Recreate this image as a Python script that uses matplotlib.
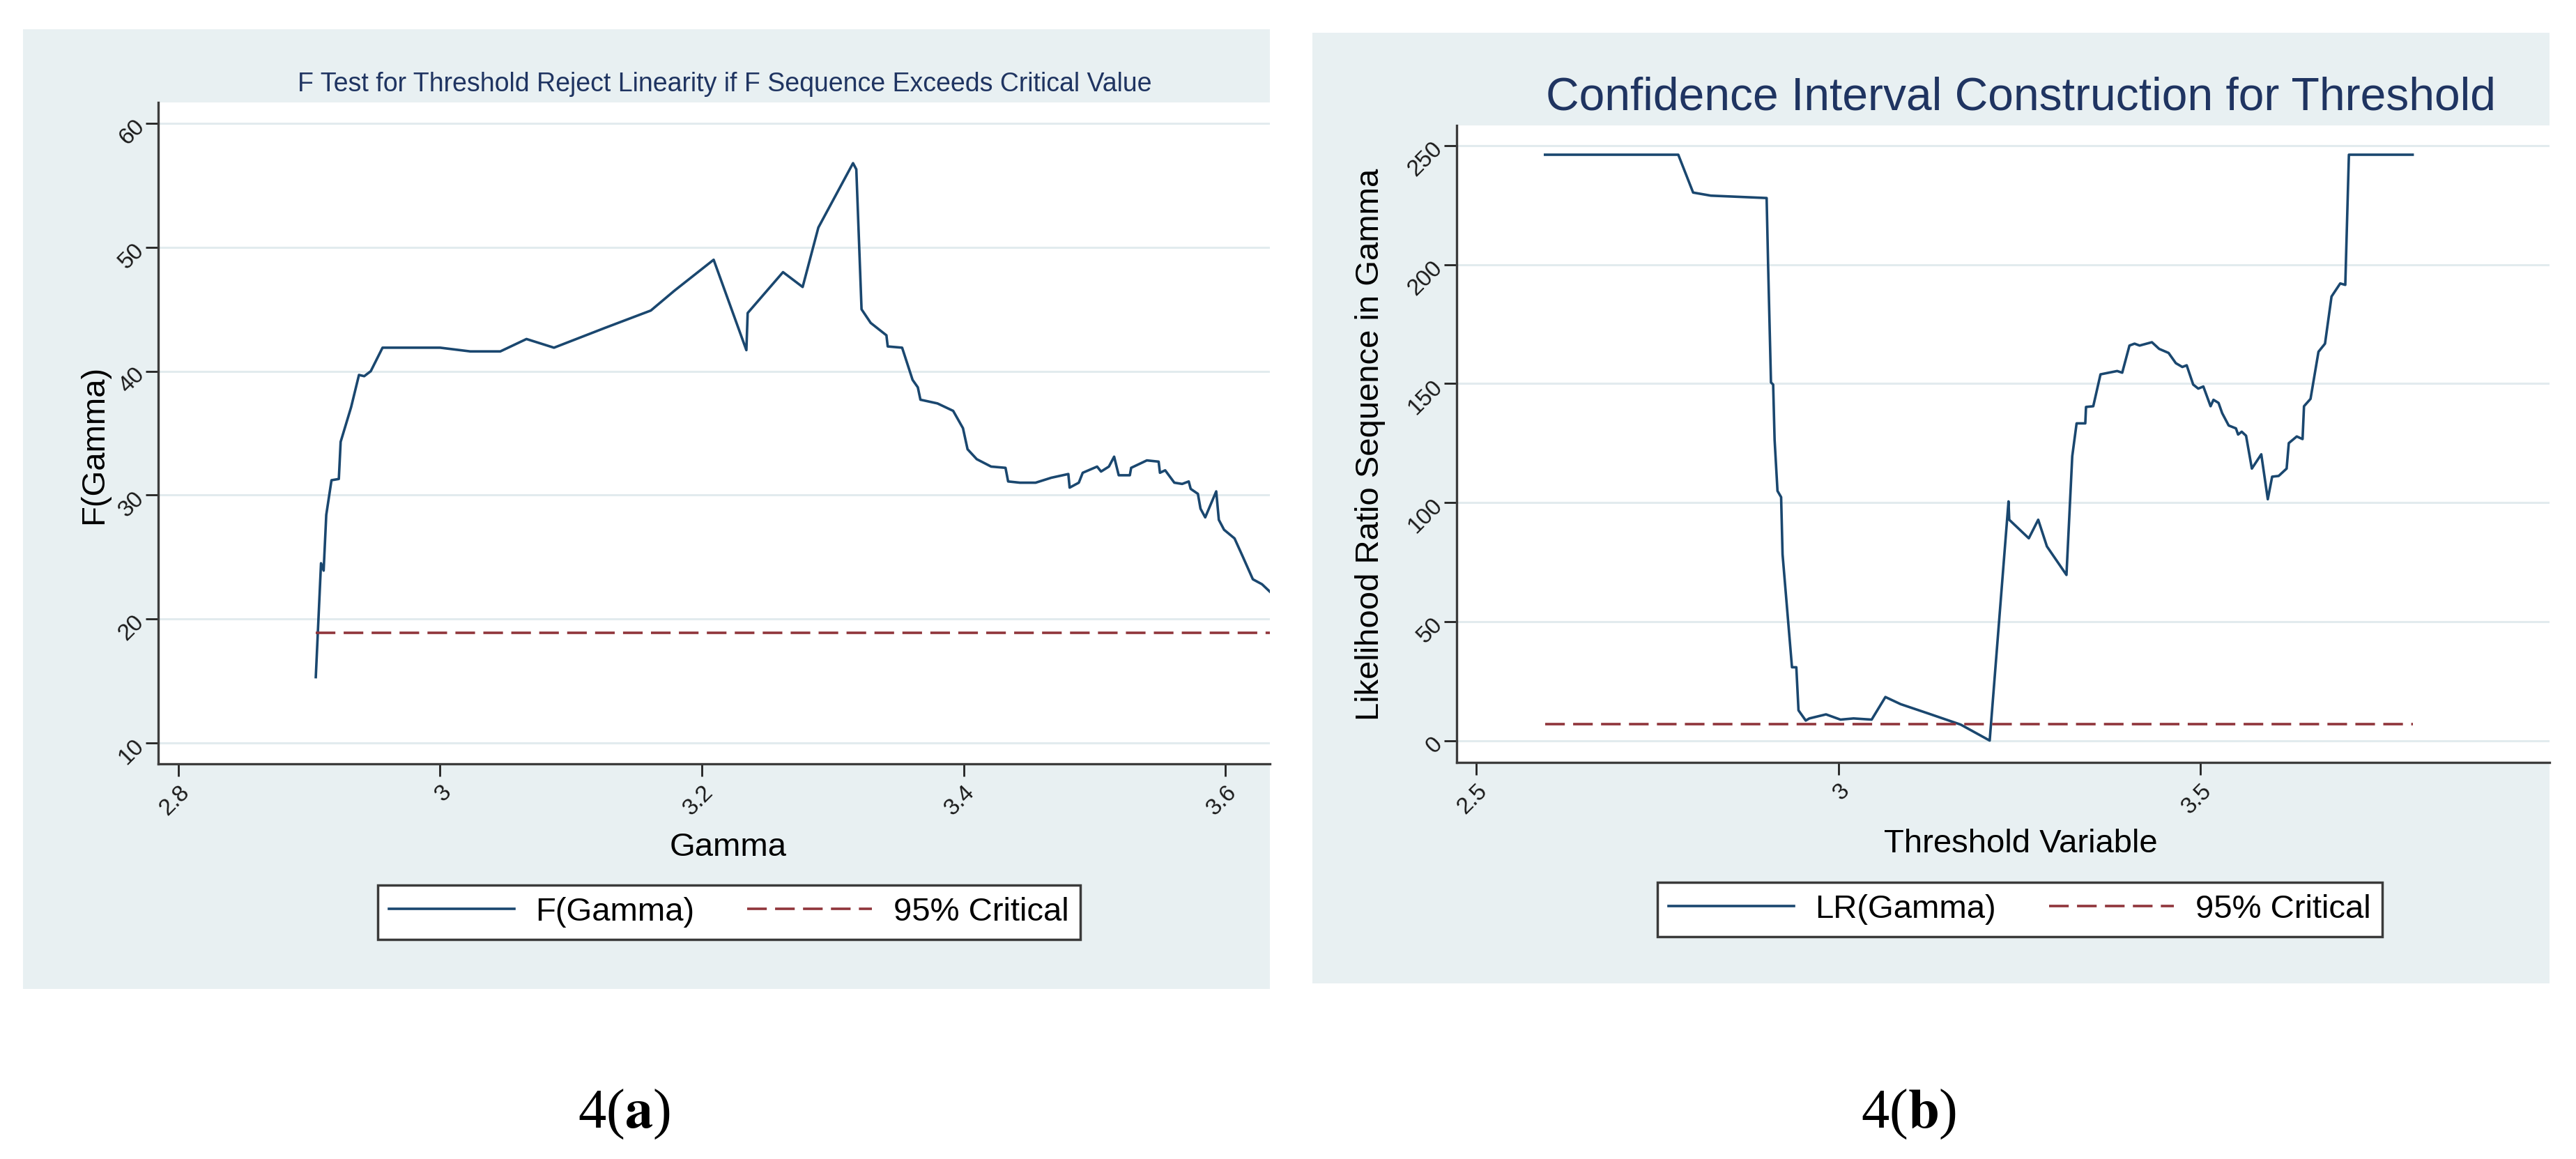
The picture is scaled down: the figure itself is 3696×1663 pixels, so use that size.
import matplotlib
matplotlib.use("Agg")
import matplotlib.pyplot as plt
from matplotlib.patches import Rectangle

# Figure size in pixels (dpi 100)
W, H = 3696, 1663

# Panel 4(a): F test sequence for the threshold
gamma_a = [2.905, 2.909, 2.911, 2.913, 2.917, 2.9226, 2.924, 2.932, 2.938, 2.942,
           2.947, 2.956, 3.000, 3.023, 3.046, 3.066, 3.087, 3.126, 3.161, 3.179,
           3.209, 3.234, 3.235, 3.262, 3.277, 3.289, 3.3155, 3.318, 3.322, 3.329,
           3.341, 3.342, 3.353, 3.361, 3.365, 3.367, 3.380, 3.392, 3.3995, 3.403,
           3.410, 3.421, 3.432, 3.434, 3.443, 3.455, 3.467, 3.480, 3.481, 3.488,
           3.491, 3.502, 3.505, 3.511, 3.515, 3.5185, 3.527, 3.528, 3.540, 3.549,
           3.550, 3.554, 3.561, 3.567, 3.572, 3.5735, 3.579, 3.581, 3.5846, 3.593,
           3.595, 3.599, 3.607, 3.613, 3.621, 3.628, 3.636]
f_gamma = [15.3, 24.5, 23.9, 28.4, 31.2, 31.3, 34.3, 37.1, 39.7, 39.6,
           40.0, 41.9, 41.9, 41.6, 41.6, 42.6, 41.9, 43.5, 44.9, 46.5,
           49.0, 41.7, 44.7, 48.0, 46.8, 51.6, 56.8, 56.3, 45.0, 43.9,
           42.9, 42.0, 41.9, 39.3, 38.7, 37.7, 37.4, 36.8, 35.4, 33.7,
           32.9, 32.3, 32.2, 31.1, 31.0, 31.0, 31.4, 31.7, 30.6, 31.0,
           31.8, 32.3, 31.9, 32.3, 33.1, 31.6, 31.6, 32.2, 32.8, 32.7,
           31.8, 32.0, 31.0, 30.9, 31.1, 30.5, 30.1, 28.9, 28.2, 30.3,
           28.0, 27.2, 26.5, 25.1, 23.2, 22.8, 22.0]
crit_a = 18.9
crit_a_x = [2.905, 3.70]

# Panel 4(b): likelihood ratio sequence
gamma_b = [2.595, 2.779, 2.7995, 2.824, 2.901, 2.903, 2.907, 2.910, 2.912, 2.916,
           2.921, 2.923, 2.936, 2.942, 2.945, 2.955, 2.960, 2.983, 3.003, 3.021,
           3.046, 3.065, 3.086, 3.124, 3.169, 3.209, 3.235, 3.236, 3.263, 3.276,
           3.288, 3.315, 3.323, 3.329, 3.341, 3.342, 3.352, 3.362, 3.385, 3.392,
           3.402, 3.409, 3.416, 3.433, 3.443, 3.456, 3.466, 3.475, 3.481, 3.490,
           3.497, 3.504, 3.514, 3.518, 3.525, 3.530, 3.539, 3.549, 3.552, 3.557,
           3.563, 3.571, 3.584, 3.593, 3.599, 3.608, 3.619, 3.622, 3.633, 3.641,
           3.643, 3.652, 3.663, 3.672, 3.681, 3.693, 3.700, 3.705, 3.793]
lr_gamma = [246.2, 246.2, 230.3, 229.0, 228.0, 200.4, 150.5, 149.6, 126.4, 104.9,
            102.3, 78.2, 30.8, 30.8, 12.7, 8.4, 9.3, 11.0, 8.8, 9.3,
            8.8, 18.3, 15.3, 11.4, 6.7, 0.0, 100.5, 92.8, 85.0, 92.8,
            81.6, 69.6, 119.5, 133.3, 133.3, 140.2, 140.5, 153.9, 155.3, 154.6,
            166.0, 166.8, 166.0, 167.4, 164.6, 162.9, 158.6, 157.0, 157.7, 149.6,
            147.9, 148.8, 140.5, 143.2, 141.9, 137.6, 132.4, 131.2, 128.6, 129.8,
            128.1, 114.3, 120.3, 101.4, 110.9, 111.2, 114.3, 125.0, 127.8, 126.7,
            140.5, 143.6, 163.4, 166.8, 186.6, 192.1, 191.5, 246.2, 246.2]
crit_b = 7.0
crit_b_x = [2.595, 3.793]

yticks_a = [10, 20, 30, 40, 50, 60]
xticks_a = [2.8, 3.0, 3.2, 3.4, 3.6]
xticklabels_a = ['2.8', '3', '3.2', '3.4', '3.6']
yticks_b = [0, 50, 100, 150, 200, 250]
xticks_b = [2.5, 3.0, 3.5]
xticklabels_b = ['2.5', '3', '3.5']

NAVY = '#1a476f'
MAROON = '#90353b'
BG = '#e8f0f2'
GRID = '#e2ebee'
TITLE = '#1f3461'

plt.rcParams['font.family'] = ['Liberation Sans', 'DejaVu Sans']
plt.rcParams['mathtext.fontset'] = 'stix'


def fx(x):
    return x / W


def fy(y):
    return 1 - y / H


def box(l, t, r, b):
    return [l / W, 1 - b / H, (r - l) / W, (b - t) / H]


def panel(fig, ax, x, y, crit, crit_x, label, xlim, ylim, xticks, xticklabels, yticks):
    ax.plot(x, y, color=NAVY, lw=2.6, label=label)
    ax.plot(crit_x, [crit, crit], color=MAROON, lw=2.6, dashes=(7.8, 3.3),
            label='95% Critical')
    ax.set_xlim(*xlim)
    ax.set_ylim(*ylim)
    ax.set_xticks(xticks)
    ax.set_xticklabels(xticklabels)
    ax.set_yticks(yticks)
    ax.grid(axis='y', color=GRID, lw=2.2)
    ax.set_axisbelow(True)
    ax.set_facecolor('white')
    for s in ['top', 'right']:
        ax.spines[s].set_visible(False)
    for s in ['left', 'bottom']:
        ax.spines[s].set_color('#3c3c3c')
        ax.spines[s].set_linewidth(2.4)
    ax.tick_params(length=13, width=2, color='#222222', labelsize=24, pad=5,
                   labelcolor='#1a1a1a')
    plt.setp(ax.get_xticklabels(), rotation=45, ha='right', va='top',
             rotation_mode='anchor')
    plt.setp(ax.get_yticklabels(), rotation=45, ha='right', va='center',
             rotation_mode='anchor')


fig = plt.figure(figsize=(W / 100, H / 100), dpi=100)

# grey-blue panel backgrounds (Stata s2color look)
for l, t, r, b in [(33, 42, 1822, 1419), (1883, 47, 3658, 1411)]:
    x0, y0, w, h = box(l, t, r, b)
    fig.add_artist(Rectangle((x0, y0), w, h, transform=fig.transFigure,
                             facecolor=BG, edgecolor='none', zorder=-5))

# ---- 4(a)
ax1 = fig.add_axes(box(227, 147, 1822, 1096))
panel(fig, ax1, gamma_a, f_gamma, crit_a, crit_a_x, 'F(Gamma)',
      (2.7846, 3.634), (8.3, 61.7), xticks_a, xticklabels_a, yticks_a)
ax1.set_xlabel('Gamma', fontsize=34)
ax1.xaxis.set_label_coords(fx(1045), fy(1228), transform=fig.transFigure)
ax1.xaxis.label.set_va('baseline')
ax1.set_ylabel('F(Gamma)', fontsize=34)
ax1.yaxis.set_label_coords(fx(135), fy(638), transform=fig.transFigure)
ax1.yaxis.label.set_va('center')
fig.text(fx(1040), fy(131),
         'F Test for Threshold Reject Linearity if F Sequence Exceeds Critical Value',
         ha='center', va='baseline', fontsize=27, color=TITLE)
leg1 = ax1.legend(loc='center', bbox_to_anchor=(fx(1046), fy(1309)),
                  bbox_transform=fig.transFigure, ncol=2, fontsize=34,
                  handlelength=3.8, handletextpad=0.65, columnspacing=1.6,
                  borderpad=0.35, fancybox=False, framealpha=1,
                  edgecolor='#3a3a3a')
leg1.get_frame().set_linewidth(2.5)

# ---- 4(b)
ax2 = fig.add_axes(box(2090, 180, 3658, 1094))
panel(fig, ax2, gamma_b, lr_gamma, crit_b, crit_b_x, 'LR(Gamma)',
      (2.473, 3.982), (-9.2, 258.5), xticks_b, xticklabels_b, yticks_b)
ax2.set_xlabel('Threshold Variable', fontsize=34)
ax2.xaxis.set_label_coords(fx(2899), fy(1223), transform=fig.transFigure)
ax2.xaxis.label.set_va('baseline')
ax2.set_ylabel('Likelihood Ratio Sequence in Gamma', fontsize=34)
ax2.yaxis.set_label_coords(fx(1966), fy(638), transform=fig.transFigure)
ax2.yaxis.label.set_va('center')
fig.text(fx(2899), fy(158), 'Confidence Interval Construction for Threshold',
         ha='center', va='baseline', fontsize=47.5, color=TITLE)
leg2 = ax2.legend(loc='center', bbox_to_anchor=(fx(2898), fy(1305)),
                  bbox_transform=fig.transFigure, ncol=2, fontsize=34,
                  handlelength=3.8, handletextpad=0.65, columnspacing=1.6,
                  borderpad=0.35, fancybox=False, framealpha=1,
                  edgecolor='#3a3a3a')
leg2.get_frame().set_linewidth(2.5)

# sub-figure captions
fig.text(fx(895), fy(1618), r'4($\mathbf{a}$)', family='Liberation Serif',
         fontsize=58, ha='center', va='baseline')
fig.text(fx(2739), fy(1618), r'4($\mathbf{b}$)', family='Liberation Serif',
         fontsize=58, ha='center', va='baseline')

fig.savefig('out.png', dpi=100, facecolor='white')
